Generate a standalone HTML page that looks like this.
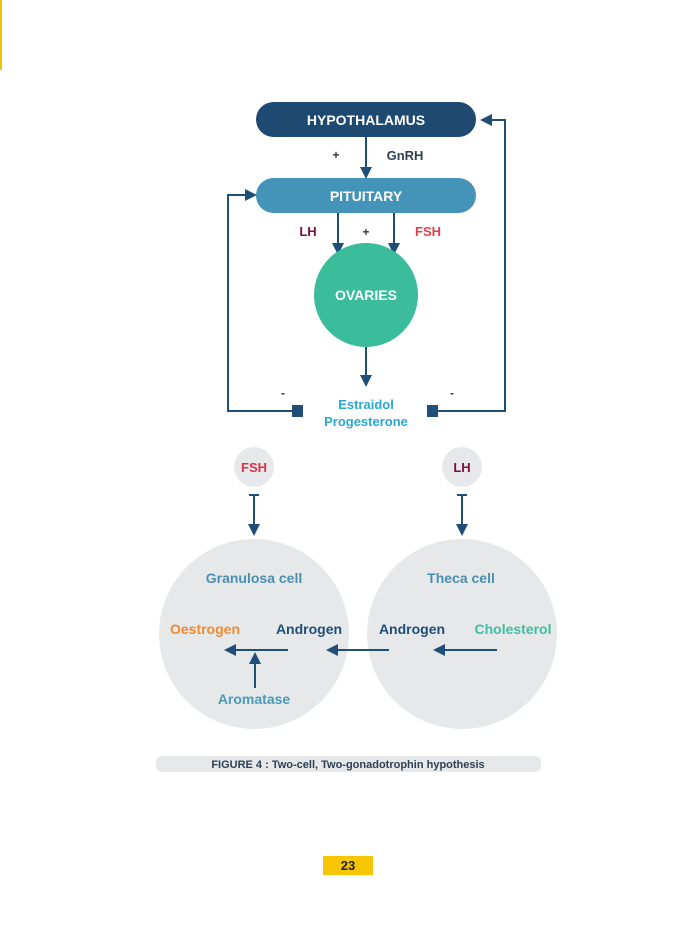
<!DOCTYPE html>
<html><head><style>
body{margin:0;width:681px;height:931px;background:#fff;overflow:hidden;font-family:"Liberation Sans",sans-serif;}
</style></head><body>
<svg width="681" height="931" viewBox="0 0 681 931" xmlns="http://www.w3.org/2000/svg" font-family="Liberation Sans, sans-serif" font-weight="bold">
<defs>
<marker id="a" markerWidth="12" markerHeight="12" refX="10" refY="6" orient="auto" markerUnits="userSpaceOnUse"><path d="M0,0 L12,6 L0,12 Z" fill="#1f4f78"/></marker>
</defs>
<rect x="0" y="0" width="2" height="70" fill="#f2c300"/>
<rect x="256" y="102" width="220" height="35" rx="17.5" fill="#1e4a72"/>
<text x="366" y="125" text-anchor="middle" fill="#fff" font-size="14">HYPOTHALAMUS</text>
<rect x="256" y="178" width="220" height="35" rx="17.5" fill="#4394b8"/>
<text x="366" y="201" text-anchor="middle" fill="#fff" font-size="14">PITUITARY</text>
<g stroke="#1f4f78" stroke-width="2" fill="none">
<line x1="366" y1="137" x2="366" y2="177" marker-end="url(#a)"/>
<line x1="338" y1="213" x2="338" y2="253" marker-end="url(#a)"/>
<line x1="394" y1="213" x2="394" y2="253" marker-end="url(#a)"/>
<line x1="366" y1="347" x2="366" y2="385" marker-end="url(#a)"/>
<polyline points="296,411 228,411 228,195 255,195" marker-end="url(#a)"/>
<polyline points="436,411 505,411 505,120 482,120" marker-end="url(#a)"/>
</g>
<rect x="292" y="405" width="11" height="12" fill="#1f4f78"/>
<rect x="427" y="405" width="11" height="12" fill="#1f4f78"/>
<text x="336" y="159" text-anchor="middle" fill="#333" font-size="12">+</text>
<text x="405" y="160" text-anchor="middle" fill="#2f3f52" font-size="13">GnRH</text>
<text x="308" y="236" text-anchor="middle" fill="#7a1040" font-size="13">LH</text>
<text x="366" y="236" text-anchor="middle" fill="#333" font-size="12">+</text>
<text x="428" y="236" text-anchor="middle" fill="#e0404a" font-size="13">FSH</text>
<circle cx="366" cy="295" r="52" fill="#3bbd9b"/>
<text x="366" y="300" text-anchor="middle" fill="#fff" font-size="14">OVARIES</text>
<text x="283" y="397" text-anchor="middle" fill="#333" font-size="12">-</text>
<text x="452" y="397" text-anchor="middle" fill="#333" font-size="12">-</text>
<text x="366" y="409" text-anchor="middle" fill="#2aa8d0" font-size="13">Estraidol</text>
<text x="366" y="426" text-anchor="middle" fill="#2aa8d0" font-size="13">Progesterone</text>
<circle cx="254" cy="467" r="20" fill="#e6e8ea"/>
<text x="254" y="472" text-anchor="middle" fill="#d8344a" font-size="13">FSH</text>
<circle cx="462" cy="467" r="20" fill="#e6e8ea"/>
<text x="462" y="472" text-anchor="middle" fill="#7a1040" font-size="13">LH</text>
<circle cx="254" cy="634" r="95" fill="#e6e8ea"/>
<circle cx="462" cy="634" r="95" fill="#e6e8ea"/>
<g stroke="#1f4f78" stroke-width="2" fill="none">
<line x1="249" y1="495" x2="259" y2="495"/><line x1="254" y1="495" x2="254" y2="534" marker-end="url(#a)"/>
<line x1="457" y1="495" x2="467" y2="495"/><line x1="462" y1="495" x2="462" y2="534" marker-end="url(#a)"/>
<line x1="288" y1="650" x2="226" y2="650" marker-end="url(#a)"/>
<line x1="389" y1="650" x2="328" y2="650" marker-end="url(#a)"/>
<line x1="497" y1="650" x2="435" y2="650" marker-end="url(#a)"/>
<line x1="255" y1="688" x2="255" y2="654" marker-end="url(#a)"/>
</g>
<text x="254" y="583" text-anchor="middle" fill="#4a8fb0" font-size="14">Granulosa cell</text>
<text x="461" y="583" text-anchor="middle" fill="#4a8fb0" font-size="14">Theca cell</text>
<text x="205" y="634" text-anchor="middle" fill="#f08a30" font-size="14">Oestrogen</text>
<text x="309" y="634" text-anchor="middle" fill="#1f4f78" font-size="14">Androgen</text>
<text x="412" y="634" text-anchor="middle" fill="#1f4f78" font-size="14">Androgen</text>
<text x="513" y="634" text-anchor="middle" fill="#3fbf9e" font-size="14">Cholesterol</text>
<text x="254" y="704" text-anchor="middle" fill="#4a9ab5" font-size="14">Aromatase</text>
<rect x="156" y="756" width="385" height="16" rx="6" fill="#e6e8ea"/>
<text x="348" y="768" text-anchor="middle" fill="#2f3f52" font-size="11">FIGURE 4 : Two-cell, Two-gonadotrophin hypothesis</text>
<rect x="323" y="856" width="50" height="19" fill="#f7c600"/>
<text x="348" y="870" text-anchor="middle" fill="#222" font-size="13">23</text>
</svg>
</body></html>
